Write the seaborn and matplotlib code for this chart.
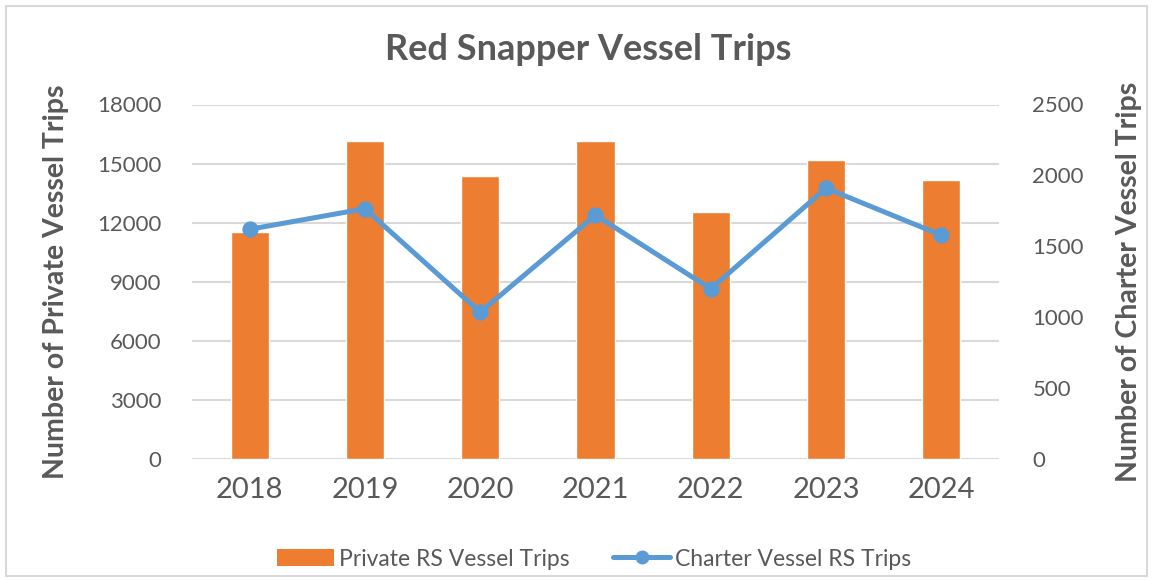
import matplotlib.pyplot as plt
import seaborn as sns
import pandas as pd
from matplotlib.patches import Patch, Rectangle
from matplotlib.lines import Line2D

years = ["2018", "2019", "2020", "2021", "2022", "2023", "2024"]
private_trips = [11550, 16170, 14350, 16170, 12520, 15180, 14170]
charter_trips = [1620, 1765, 1035, 1720, 1200, 1910, 1578]

ORANGE = "#ED7D31"
BLUE = "#5B9BD5"
GRAY = "#595959"

sns.set_style("white")
plt.rcParams["font.family"] = ["Lato", "DejaVu Sans"]

df = pd.DataFrame({"year": years, "private": private_trips, "charter": charter_trips})

fig = plt.figure(figsize=(11.53, 5.8), dpi=100)
ax = fig.add_axes([192 / 1153, 1 - 459 / 580, 807 / 1153, 354.5 / 580])

sns.barplot(data=df, x="year", y="private", color=ORANGE, width=0.33,
            saturation=1, ax=ax, zorder=2)
ax.set_ylim(0, 18000)
ax.set_yticks(range(0, 18001, 3000))
ax.yaxis.grid(True, color="#D9D9D9", linewidth=1.5, zorder=0)
ax.set_axisbelow(True)
for s in ax.spines.values():
    s.set_visible(False)
ax.tick_params(axis="y", length=0, pad=22, labelsize=16, labelcolor=GRAY)
ax.tick_params(axis="x", length=0, pad=13, labelsize=21, labelcolor=GRAY)
ax.set_xlabel("")
ax.set_ylabel("Number of Private Vessel Trips", fontsize=20.5, color=GRAY,
              fontweight="bold", labelpad=20)

ax2 = ax.twinx()
sns.pointplot(data=df, x="year", y="charter", color=BLUE, ax=ax2,
              markers="o", linestyles="-", linewidth=3.6, markersize=9)
ax2.set_ylim(0, 2500)
ax2.set_yticks(range(0, 2501, 500))
for s in ax2.spines.values():
    s.set_visible(False)
ax2.tick_params(axis="y", length=0, pad=24, labelsize=16, labelcolor=GRAY)
ax2.set_ylabel("Number of Charter Vessel Trips", fontsize=20.5, color=GRAY,
               fontweight="bold", labelpad=23)
ax2.set_xlabel("")

fig.suptitle("Red Snapper Vessel Trips", x=588 / 1153, y=1 - 50 / 580,
             va="center", fontsize=26, fontweight="bold", color=GRAY)

handles = [Patch(facecolor=ORANGE, edgecolor="none"),
           Line2D([], [], color=BLUE, linewidth=3.6, marker="o", markersize=9)]
fig.legend(handles, ["Private RS Vessel Trips", "Charter Vessel RS Trips"],
           loc="center", bbox_to_anchor=(594 / 1153, 1 - 559 / 580), ncol=2,
           frameon=False, fontsize=16.5, labelcolor=GRAY, handlelength=2.5,
           handleheight=0.8, handletextpad=0.2, columnspacing=1.9)

fig.patches.append(Rectangle((6 / 1153, 4 / 580), 1141 / 1153, 570 / 580,
                             transform=fig.transFigure, fill=False,
                             edgecolor="#D9D9D9", linewidth=1.5))

fig.savefig("out.png", dpi=100)
plt.close(fig)
